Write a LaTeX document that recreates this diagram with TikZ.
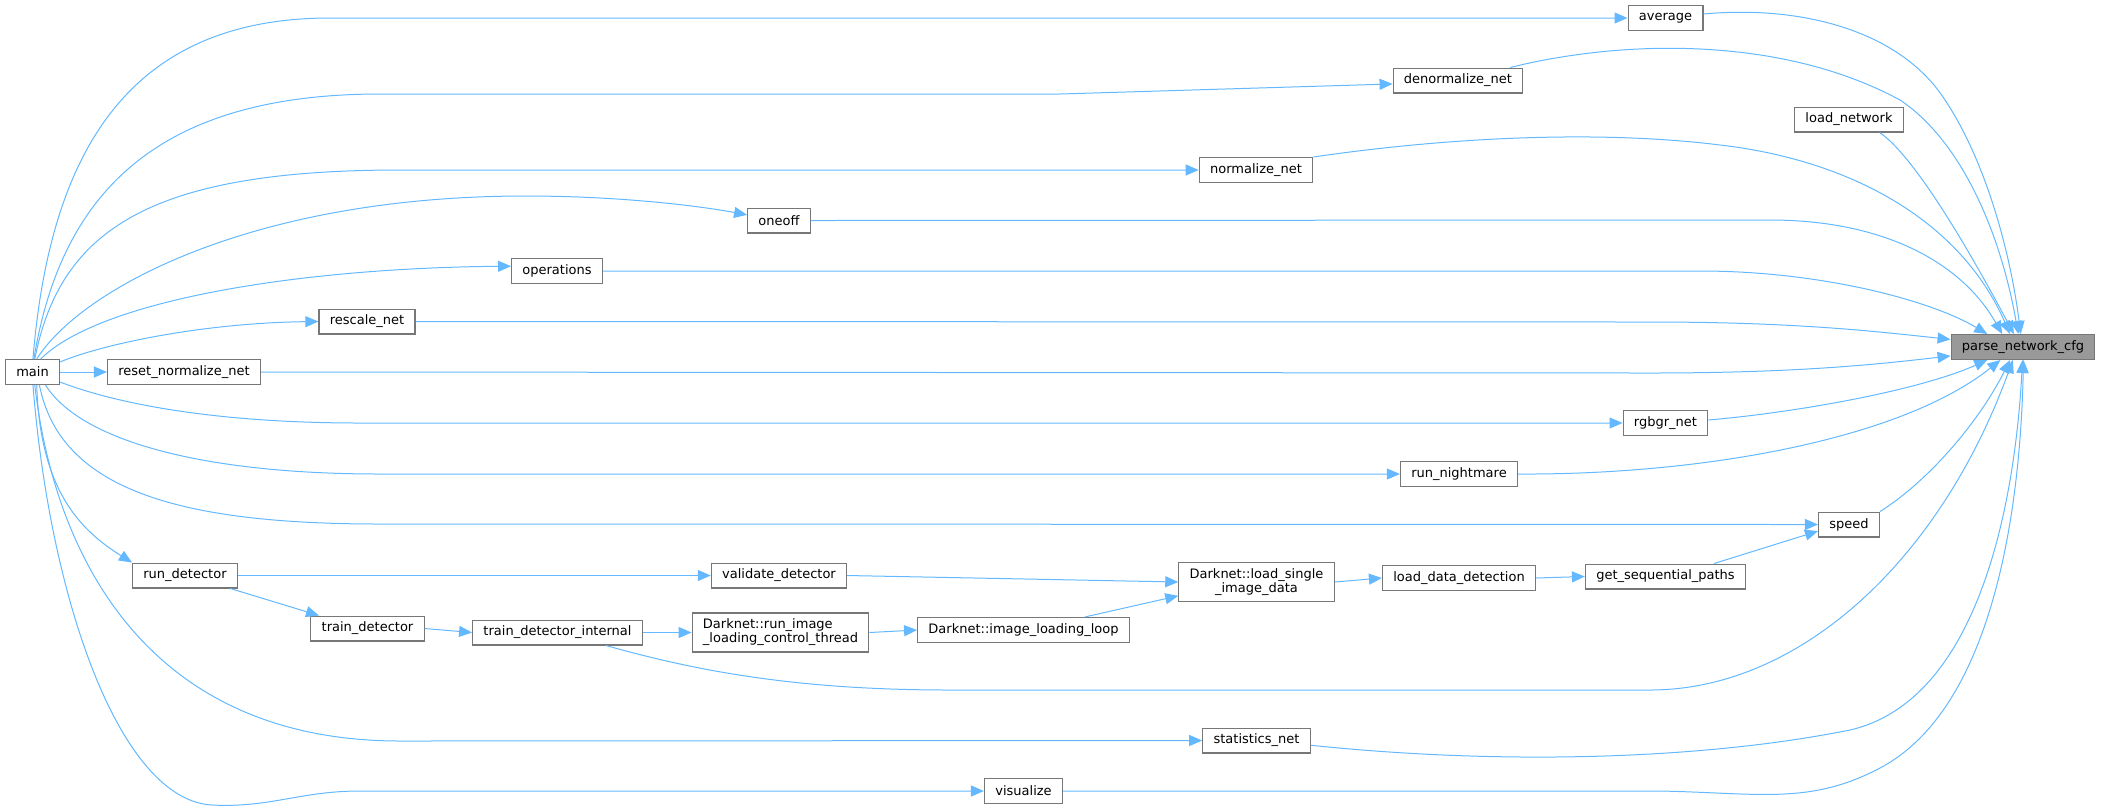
\documentclass[tikz,border=0pt]{standalone}
\usepackage{fontspec}
\setmainfont{DejaVu Sans}
\usepackage{tikz}
\usepackage{xcolor}
\usetikzlibrary{arrows.meta}
\definecolor{callblue}{HTML}{63B8FF}
\definecolor{boxgray}{HTML}{777777}
\definecolor{rootgray}{HTML}{999999}
\tikzset{
    fn-box/.style = {draw=boxgray, fill=white, line width=0.6pt, rectangle, inner xsep=5.4pt, inner ysep=2pt, minimum height=12.4pt, font=\fontsize{6.5pt}{7pt}\selectfont},
    fn-box-root/.style = {fn-box, fill=rootgray},
    call-edge/.style = {draw=callblue, line width=0.5pt, -{Triangle[length=6.5pt, width=5.5pt]}},
}

\begin{document}
\begin{tikzpicture}[x=0.5pt, y=-0.5pt]
\useasboundingbox (0,0) rectangle (2104,811);

\node [fn-box] (main) at (32.5,372) {main};
\node [fn-box] (reset-normalize) at (184,372) {reset\_normalize\_net};
\node [fn-box] (rescale) at (367,321.5) {rescale\_net};
\node [fn-box] (operations) at (557,271) {operations};
\node [fn-box] (oneoff) at (779,220.5) {oneoff};
\node [fn-box] (normalize) at (1256,170) {normalize\_net};
\node [fn-box] (denormalize) at (1458,80.5) {denormalize\_net};
\node [fn-box] (average) at (1665.5,18) {average};
\node [fn-box] (load-network) at (1849,119.5) {load\_network};
\node [fn-box-root] (parse-cfg) at (2023,347) {parse\_network\_cfg};
\node [fn-box] (rgbgr) at (1665.5,423) {rgbgr\_net};
\node [fn-box] (run-nightmare) at (1459,474) {run\_nightmare};
\node [fn-box] (speed) at (1849,524.5) {speed};
\node [fn-box] (run-detector) at (185,575.5) {run\_detector};
\node [fn-box] (validate) at (779,575.5) {validate\_detector};
\node [fn-box, align=center, minimum height=19.5pt] (load-single) at (1256.5,582) {Darknet::load\_single\\\_image\_data};
\node [fn-box] (load-data) at (1459,578) {load\_data\_detection};
\node [fn-box] (get-paths) at (1665.5,576.5) {get\_sequential\_paths};
\node [fn-box] (train-detector) at (367.5,628.5) {train\_detector};
\node [fn-box] (train-internal) at (557.5,632.5) {train\_detector\_internal};
\node [fn-box, align=left, minimum height=19.5pt] (run-image) at (780.5,632.5) {Darknet::run\_image\\\_loading\_control\_thread};
\node [fn-box] (image-loop) at (1023.5,630) {Darknet::image\_loading\_loop};
\node [fn-box] (statistics) at (1256.5,740.5) {statistics\_net};
\node [fn-box] (visualize) at (1023.5,791) {visualize};

\draw [call-edge] (main.88) .. controls (50,150) and (130,18) .. (330,18) -- (average.west);
\draw [call-edge] (main.84) .. controls (60,200) and (150,94) .. (380,94) -- (1060,94) -- (denormalize.183);
\draw [call-edge] (main.80) .. controls (60,230) and (150,170) .. (400,170) -- (normalize.west);
\draw [call-edge] (main.72) .. controls (80,290) and (250,196) .. (526,196) .. controls (620,196) and (700,206) .. (oneoff.170);
\draw [call-edge] (main.58) .. controls (100,300) and (300,268) .. (operations.174);
\draw [call-edge] (main.20) .. controls (100,345) and (200,323) .. (rescale.west);
\draw [call-edge] (main.east) -- (reset-normalize.west);
\draw [call-edge] (main.340) .. controls (120,405) and (220,423) .. (360,423) -- (rgbgr.west);
\draw [call-edge] (main.315) .. controls (80,440) and (200,474) .. (380,474) -- (run-nightmare.west);
\draw [call-edge] (main.298) .. controls (60,490) and (180,524) .. (380,524) -- (speed.west);
\draw [call-edge] (main.288) .. controls (40,490) and (80,530) .. (run-detector.north west);
\draw [call-edge] (main.280) .. controls (55,560) and (150,741) .. (400,741) -- (statistics.west);
\draw [call-edge] (main.272) .. controls (50,600) and (120,800) .. (212,805) .. controls (270,808) and (300,791) .. (360,791) -- (visualize.west);

\draw [call-edge] (run-detector.east) -- (validate.west);
\draw [call-edge] (run-detector.344) -- (train-detector.165);
\draw [call-edge] (train-detector.east) -- (train-internal.west);
\draw [call-edge] (train-internal.east) -- (run-image.west);
\draw [call-edge] (run-image.east) -- (image-loop.west);
\draw [call-edge] (image-loop.12) -- (load-single.190);
\draw [call-edge] (validate.east) -- (load-single.west);
\draw [call-edge] (load-single.east) -- (load-data.west);
\draw [call-edge] (load-data.east) -- (get-paths.west);
\draw [call-edge] (get-paths.15) -- (speed.192);

\draw [call-edge] (average.6) .. controls (1800,5) and (1900,30) .. (1945,100) .. controls (1985,160) and (2010,250) .. (parse-cfg.100);
\draw [call-edge] (denormalize.14) .. controls (1620,40) and (1780,35) .. (1900,100) .. controls (1960,140) and (2000,230) .. (parse-cfg.110);
\draw [call-edge] (load-network.337) .. controls (1920,160) and (1985,280) .. (parse-cfg.125);
\draw [call-edge] (normalize.north east) .. controls (1450,137) and (1600,130) .. (1720,145) .. controls (1850,160) and (1960,220) .. (parse-cfg.135);
\draw [call-edge] (oneoff.east) -- (1770,220) .. controls (1880,220) and (1960,260) .. (parse-cfg.148);
\draw [call-edge] (operations.east) -- (1700,271) .. controls (1820,271) and (1930,300) .. (parse-cfg.160);
\draw [call-edge] (rescale.east) -- (1650,322) .. controls (1800,322) and (1880,332) .. (parse-cfg.174);
\draw [call-edge] (reset-normalize.east) -- (1650,373) .. controls (1800,373) and (1880,364) .. (parse-cfg.187);
\draw [call-edge] (rgbgr.4) .. controls (1800,412) and (1920,390) .. (parse-cfg.200);
\draw [call-edge] (run-nightmare.east) .. controls (1700,475) and (1900,440) .. (parse-cfg.210);
\draw [call-edge] (speed.north east) .. controls (1930,480) and (1980,420) .. (parse-cfg.225);
\draw [call-edge] (train-internal.345) .. controls (700,672) and (800,690) .. (950,690) -- (1650,690) .. controls (1800,690) and (1940,560) .. (parse-cfg.232);
\draw [call-edge] (statistics.355) .. controls (1500,765) and (1700,760) .. (1850,730) .. controls (1980,700) and (2015,500) .. (parse-cfg.268);
\draw [call-edge] (visualize.east) -- (1660,791) .. controls (1760,793) and (1810,805) .. (1880,768) .. controls (1990,710) and (2020,520) .. (parse-cfg.272);
\end{tikzpicture}
\end{document}
